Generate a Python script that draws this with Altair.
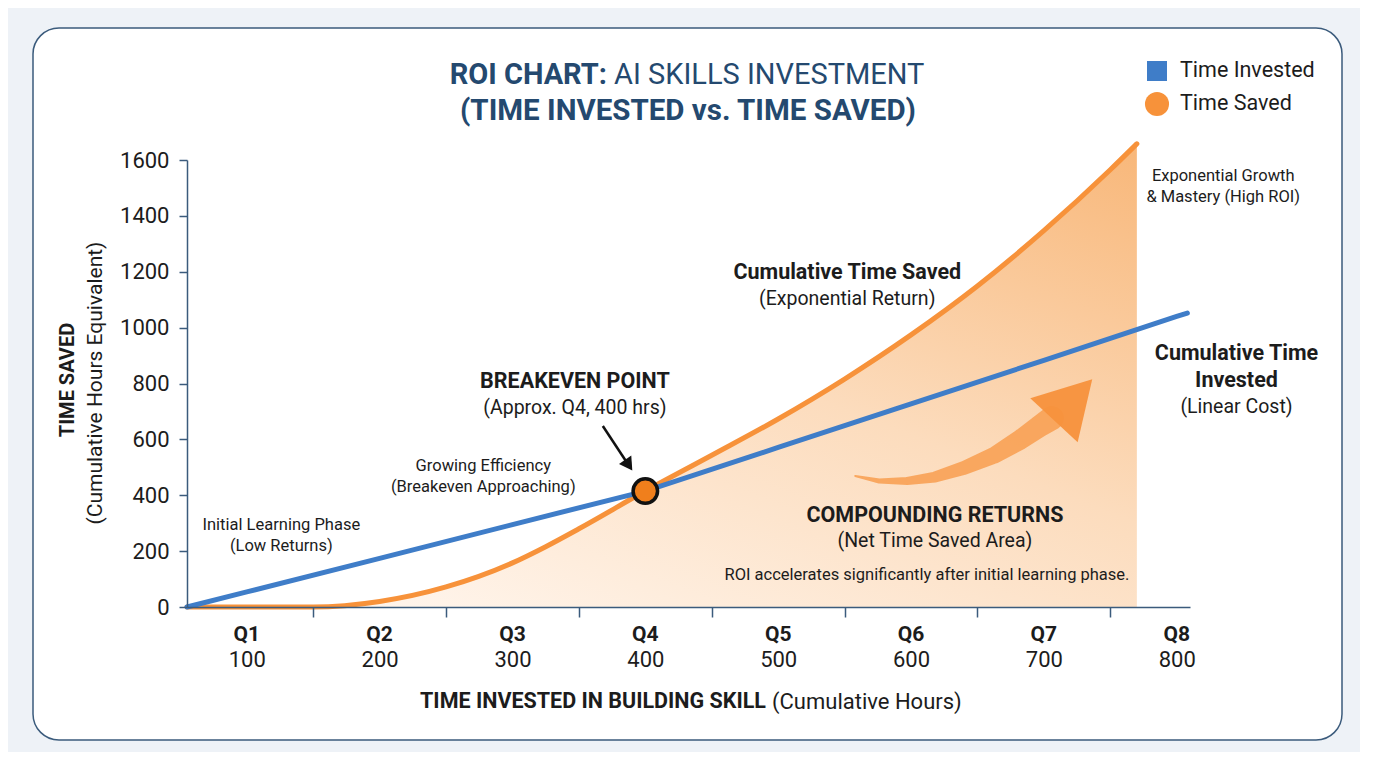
#!/usr/bin/env python3
"""ROI chart: AI skills investment (time invested vs. time saved)
"""
import altair as alt
import pandas as pd

OUTPUT_FILE = "out.html"
FONT = "Roboto"
INK = "#1c1c1c"
NAVY = "#24496f"
AXIS = "#3b5b7c"
BLUE = "#3f7dc8"
ORANGE = "#f7923a"

# x axis: quarters and cumulative hours invested
quarters = ["Q1", "Q2", "Q3", "Q4", "Q5", "Q6", "Q7", "Q8"]
quarter_hours = [100, 200, 300, 400, 500, 600, 700, 800]

# cumulative time invested (linear cost)
invested_hours = [55, 100, 200, 300, 400, 500, 600, 700, 800, 808]
invested_value = [0, 54, 174, 295, 415, 571, 727, 883, 1040, 1052]

# cumulative time saved (exponential return)
saved_hours = [55, 100, 150, 200, 250, 300, 325, 350, 400, 450, 500, 550, 600, 650, 700, 750, 770]
saved_value = [0, 0, 0, 20, 72, 158, 216, 280, 415, 543, 673, 816, 974, 1149, 1347, 1565, 1658]

# breakeven point
breakeven_hours = [400]
breakeven_value = [415]

# "compounding returns" arrow
arrow_hours = [558, 576, 597, 618, 640, 663, 682, 697, 706]
arrow_value = [469, 451, 451, 465, 498, 544, 598, 648, 676]
arrow_width = [2, 5, 8, 11, 14, 17, 20, 22, 24]

legend_names = ["Time Invested", "Time Saved"]

W, H = 1003, 447
x_scale = alt.Scale(domain=[55, 810], nice=False, zero=False)
y_scale = alt.Scale(domain=[0, 1600], nice=False)

x_axis = alt.Axis(
    title=None,
    values=list(range(100, 801, 50)),
    labelExpr="datum.value % 100 == 0 ? datum.label : ''",
    format="d",
    tickSize=10,
    tickWidth=1.5,
    tickOpacity={"condition": {"test": "datum.value % 100 == 50", "value": 1}, "value": 0},
    labelPadding=32,
    labelFontSize=22,
    labelFlush=False,
    labelOverlap=False,
    zindex=1,
)
y_axis = alt.Axis(
    title=None,
    values=list(range(0, 1601, 200)),
    format="d",
    tickSize=8,
    tickWidth=1.5,
    labelPadding=10,
    labelFontSize=22,
    zindex=1,
)


def X(field):
    return alt.X(field, type="quantitative", scale=x_scale, axis=x_axis)


def Y(field):
    return alt.Y(field, type="quantitative", scale=y_scale, axis=y_axis)


invested = pd.DataFrame({"hours": invested_hours, "value": invested_value})
saved = pd.DataFrame({"hours": saved_hours, "value": saved_value})
arrow = pd.DataFrame({"hours": arrow_hours, "value": arrow_value, "w": arrow_width})
breakeven = pd.DataFrame({"hours": breakeven_hours, "value": breakeven_value})
qlabels = pd.DataFrame({"q": quarters, "hours": quarter_hours})

card = alt.Chart().mark_rect(
    fill="white", stroke=AXIS, strokeWidth=1.5, cornerRadius=26
).encode(
    x=alt.value(-154), x2=alt.value(1155), y=alt.value(-132), y2=alt.value(580)
)

area = alt.Chart(saved).mark_area(
    interpolate="monotone",
    color=alt.Gradient(
        gradient="linear",
        stops=[
            alt.GradientStop(color="#fff5ec", offset=0),
            alt.GradientStop(color="#fcdcbd", offset=0.5),
            alt.GradientStop(color="#f8b779", offset=1),
        ],
        x1=0.2, y1=1, x2=1, y2=0,
    ),
).encode(X("hours"), Y("value"))

trail = alt.Chart(arrow).mark_trail(color="#f89d4f", opacity=0.85).encode(
    X("hours"), Y("value"),
    order=alt.Order("hours:Q"),
    size=alt.Size("w:Q", scale=None, legend=None),
)
head = alt.Chart(pd.DataFrame({"hours": [722], "value": [742]})).mark_point(
    shape="triangle-up", size=4200, angle=43, filled=True, color="#f7913c", opacity=0.95
).encode(X("hours"), Y("value"))

line_invested = alt.Chart(invested).mark_line(
    color=BLUE, strokeWidth=5, strokeCap="round"
).encode(X("hours"), Y("value"))
line_saved = alt.Chart(saved).mark_line(
    color=ORANGE, strokeWidth=5, strokeCap="round", interpolate="monotone"
).encode(X("hours"), Y("value"))

point = alt.Chart(breakeven).mark_point(
    shape="circle", size=600, filled=True, fill="#f07f1c", stroke="#111", strokeWidth=3.5, opacity=1
).encode(X("hours"), Y("value"))

pointer = alt.Chart(pd.DataFrame({"h1": [368], "v1": [648], "h2": [386], "v2": [518]})).mark_rule(
    color="#111", strokeWidth=2.5
).encode(X("h1"), Y("v1"), x2="h2:Q", y2="v2:Q")
pointer_head = alt.Chart(pd.DataFrame({"hours": [387.5], "value": [508]})).mark_point(
    shape="triangle-up", size=220, angle=146, filled=True, color="#111", opacity=1
).encode(X("hours"), Y("value"))

q_text = alt.Chart(qlabels).mark_text(
    font=FONT, fontSize=21, fontWeight="bold", color=INK, baseline="middle"
).encode(X("hours"), y=alt.value(H + 28), text="q:N")


def note(texts, hours, values, size, weight="normal"):
    df = pd.DataFrame({"t": texts, "hours": hours, "value": values})
    return alt.Chart(df).mark_text(
        font=FONT, fontSize=size, fontWeight=weight, color=INK, baseline="middle"
    ).encode(X("hours"), Y("value"), text="t:N")


notes = [
    note(["Initial Learning Phase", "(Low Returns)"], [126, 126], [293, 218], 16.5),
    note(["Growing Efficiency", "(Breakeven Approaching)"], [278, 278], [505, 430], 16.5),
    note(["BREAKEVEN POINT"], [347], [805], 21.5, "bold"),
    note(["(Approx. Q4, 400 hrs)"], [347], [712], 19.5),
    note(["Cumulative Time Saved"], [552], [1195], 21.5, "bold"),
    note(["(Exponential Return)"], [552], [1102], 19.5),
    note(["Exponential Growth", "& Mastery (High ROI)"], [835, 835], [1543, 1467], 16.5),
    note(["Cumulative Time", "Invested"], [845, 845], [905, 809], 21.5, "bold"),
    note(["(Linear Cost)"], [845], [716], 19.5),
    note(["COMPOUNDING RETURNS"], [618], [326], 21.5, "bold"),
    note(["(Net Time Saved Area)"], [618], [236], 19.5),
    note(["ROI accelerates significantly after initial learning phase."], [612], [115], 16.5),
]


def label(text, x, y, size, weight="normal", align="center", color=INK, angle=0, font=FONT):
    return alt.Chart().mark_text(
        text=text, font=font, fontSize=size, fontWeight=weight, align=align,
        baseline="middle", color=color, angle=angle,
    ).encode(x=alt.value(x), y=alt.value(y))


titles = [
    label("ROI CHART:", 420, -85, 29, "bold", "right", NAVY),
    label("AI SKILLS INVESTMENT", 427, -85, 29, "normal", "left", NAVY),
    label("(TIME INVESTED vs. TIME SAVED)", 501, -49, 29.5, "bold", "center", NAVY),
    label("TIME SAVED", -119, 220, 20, "bold", angle=270),
    label("(Cumulative Hours Equivalent)", -91, 223, 21, angle=270),
    label("TIME INVESTED IN BUILDING SKILL", 579, 542, 21.5, "bold", "right"),
    label("(Cumulative Hours)", 585, 542, 22, "normal", "left"),
    label(legend_names[0], 993, -89, 21.5, align="left"),
    label(legend_names[1], 993, -56, 21.5, align="left"),
]

legend_square = alt.Chart().mark_point(
    shape="square", size=400, filled=True, color=BLUE, opacity=1
).encode(x=alt.value(970), y=alt.value(-89))
legend_circle = alt.Chart().mark_point(
    shape="circle", size=580, filled=True, color=ORANGE, opacity=1
).encode(x=alt.value(970), y=alt.value(-56))

chart = alt.layer(
    card, area, trail, head, line_saved, line_invested, point, pointer, pointer_head,
    q_text, *notes, *titles, legend_square, legend_circle,
).properties(
    width=W, height=H,
    autosize=alt.AutoSizeParams(type="none"),
    padding={"left": 179, "top": 152, "right": 170, "bottom": 145},
    background="#eef2f7",
).configure_view(
    stroke=None
).configure_axis(
    labelFont=FONT, labelColor=INK, domainColor=AXIS, tickColor=AXIS,
    domainWidth=1.5, grid=False,
)

chart.save(OUTPUT_FILE, embed_options={"renderer": "svg", "actions": False})
